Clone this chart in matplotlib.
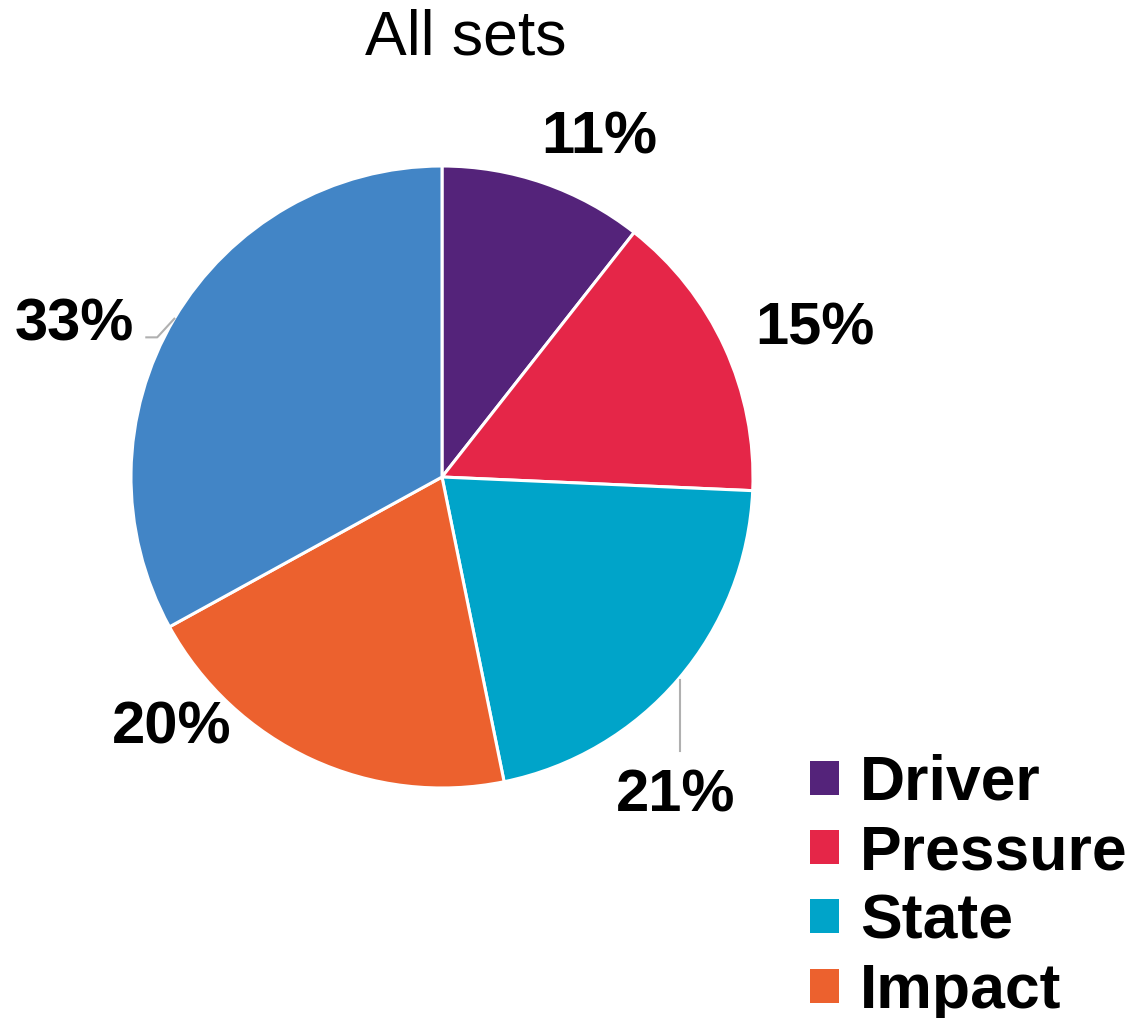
import matplotlib.pyplot as plt
import numpy as np
from matplotlib.patches import Patch

plt.rcParams['font.family'] = ['Liberation Sans', 'DejaVu Sans']

# data
categories = ['Driver', 'Pressure', 'State', 'Impact', 'Response']
shares = [10.6, 15.1, 21.1, 20.2, 33.0]
labels = ['11%', '15%', '21%', '20%', '33%']
colors = ['#54237A', '#E52648', '#00A4C9', '#EC612E', '#4285C6']
legend_items = categories[:4]

# label offsets from the wedge mid point (radius units)
label_offsets = [(0.18, 0.145), (0.29, 0.06), (-0.01, -0.375), (-0.45, 0.10), (-0.32, -0.02)]

W, H = 1135, 1018
fig = plt.figure(figsize=(W / 100, H / 100), dpi=100)
cx, cy, R = 442, 477, 311
ax = fig.add_axes([(cx - R) / W, (H - cy - R) / H, 2 * R / W, 2 * R / H])

wedges, _ = ax.pie(shares, colors=colors, startangle=90, counterclock=False,
                   radius=1, wedgeprops=dict(edgecolor='white', linewidth=2.2))
ax.set_xlim(-1, 1)
ax.set_ylim(-1, 1)
ax.axis('off')
for w in wedges:
    w.set_clip_on(False)

for i, w in enumerate(wedges):
    mid = np.deg2rad((w.theta1 + w.theta2) / 2)
    mx, my = np.cos(mid), np.sin(mid)
    dx, dy = label_offsets[i]
    ax.text(mx + dx, my + dy, labels[i], fontsize=43, fontweight='bold',
            ha='center', va='center', clip_on=False)

# leader lines for State and the blue slice
m = np.deg2rad((wedges[2].theta1 + wedges[2].theta2) / 2)
x0, y0 = 1.005 * np.cos(m), 1.005 * np.sin(m)
ax.plot([x0, x0], [y0, -0.88], color='#b0b0b0', lw=1.5, clip_on=False)
m = np.deg2rad((wedges[4].theta1 + wedges[4].theta2) / 2)
x0, y0 = 1.0 * np.cos(m), 1.0 * np.sin(m)
ax.plot([x0, x0 - 0.055, x0 - 0.09], [y0, y0 - 0.06, y0 - 0.06],
        color='#b0b0b0', lw=1.5, clip_on=False)

fig.text(466 / W, 1 - 38 / H, 'All sets', fontsize=45, ha='center', va='center')

handles = [Patch(facecolor=colors[i], edgecolor='none') for i in range(4)]
fig.legend(handles, legend_items, loc='upper left', bbox_to_anchor=(810 / W, 1 - 754 / H),
           frameon=False, prop=dict(weight='bold', size=45),
           handlelength=0.46, handleheight=0.46, handletextpad=0.34,
           labelspacing=0.165, borderpad=0, borderaxespad=0)

fig.savefig('out.png', dpi=100)
